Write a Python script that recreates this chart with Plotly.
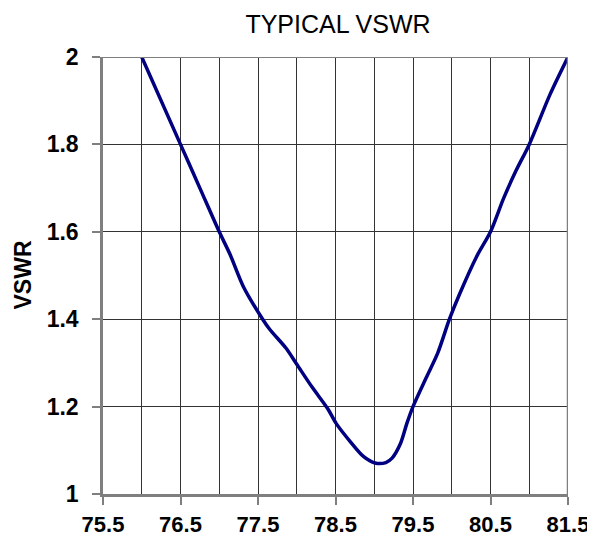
import plotly.graph_objects as go

freq = [76.0, 76.5, 76.76, 77.0, 77.14, 77.31, 77.56, 77.65, 77.86, 78.0,
        78.2, 78.4, 78.51, 78.69, 78.86, 79.01, 79.15, 79.23, 79.34, 79.42, 79.5,
        79.67, 79.82, 79.97, 80.1, 80.32, 80.5, 80.67, 80.83, 81.0, 81.27, 81.5]
vswr = [2.0, 1.8, 1.696, 1.6, 1.548, 1.475, 1.40, 1.377, 1.334, 1.297,
        1.244, 1.195, 1.161, 1.12, 1.086, 1.071, 1.072, 1.082, 1.116, 1.161, 1.2,
        1.266, 1.323, 1.40, 1.457, 1.543, 1.6, 1.677, 1.74, 1.8, 1.915, 2.0]

x_ticks = [75.5, 76.5, 77.5, 78.5, 79.5, 80.5, 81.5]
y_ticks = [1, 1.2, 1.4, 1.6, 1.8, 2]
y_labels = ["1", "1.2", "1.4", "1.6", "1.8", "2"]

FONT = "Liberation Sans, Arial, sans-serif"
W, H = 587, 533          # page body margin of 8px is compensated
L, R, T, B = 95, 27, 49, 47
plot_w = W - L - R

fig = go.Figure()
fig.add_trace(go.Scatter(x=freq, y=vswr, mode="lines",
                         line=dict(color="#000080", width=3.5, shape="spline", smoothing=0.8),
                         showlegend=False, hoverinfo="skip"))

fig.update_layout(
    width=W, height=H,
    margin=dict(l=L, r=R, t=T, b=B, autoexpand=False),
    paper_bgcolor="white", plot_bgcolor="white",
    font=dict(family=FONT, color="black"),
    title=dict(text="TYPICAL VSWR", x=330 / W, xanchor="center",
               y=1 - 16 / H, yanchor="middle", yref="container",
               font=dict(size=25, family=FONT, color="black")),
    annotations=[dict(text="<b>VSWR</b>", xref="paper", yref="paper",
                      x=-81 / plot_w, y=0.5, xanchor="center", yanchor="middle",
                      textangle=-90, showarrow=False,
                      font=dict(size=23, family=FONT, color="black"))],
)
fig.update_xaxes(
    range=[75.5, 81.5], tickvals=x_ticks, ticktext=[str(v) for v in x_ticks],
    showgrid=True, gridcolor="#333333", gridwidth=1,
    minor=dict(tickvals=[76, 77, 78, 79, 80, 81], showgrid=True, gridcolor="#333333", gridwidth=1),
    showline=True, linecolor="#7f7f7f", linewidth=2.5,
    ticks="outside", ticklen=8, tickcolor="#7f7f7f", tickwidth=1.5,
    ticklabelstandoff=1,
    tickfont=dict(size=22, family=FONT, color="black", weight="bold"),
    zeroline=False, fixedrange=True, automargin=False,
)
fig.update_yaxes(
    range=[1, 2], tickvals=y_ticks, ticktext=y_labels,
    showgrid=True, gridcolor="#333333", gridwidth=1,
    showline=True, linecolor="#7f7f7f", linewidth=2.5,
    ticks="outside", ticklen=8, tickcolor="#7f7f7f", tickwidth=1.5,
    ticklabelstandoff=9,
    tickfont=dict(size=23, family=FONT, color="black", weight="bold"),
    zeroline=False, fixedrange=True, automargin=False,
)
# right and top frame lines
fig.add_shape(type="line", xref="x", yref="y", x0=81.5, x1=81.5, y0=1, y1=2,
              line=dict(color="#7f7f7f", width=2.5))
fig.add_shape(type="line", xref="x", yref="y", x0=75.5, x1=81.5, y0=2, y1=2,
              line=dict(color="#7f7f7f", width=2))

fig.write_html("out.html")
